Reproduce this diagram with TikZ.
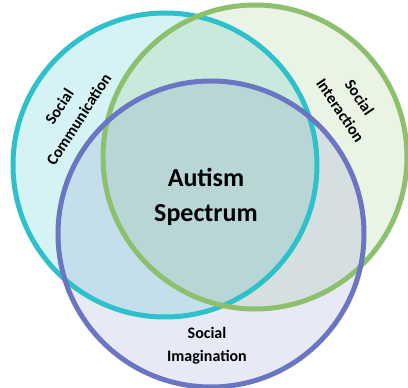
\documentclass[tikz,border=0pt]{standalone}
\usepackage{fontspec}
\setmainfont{Carlito}
\definecolor{tealc}{HTML}{2EC0CB}
\definecolor{greenc}{HTML}{8CC06C}
\definecolor{bluec}{HTML}{6B76C2}
\begin{document}
\begin{tikzpicture}[x=1pt,y=-1pt,
  ring/.style={line width=5pt},
  lbl/.style={font=\bfseries\fontsize{16}{23}\selectfont, align=center, text=black, inner sep=0pt},
  big/.style={font=\bfseries\fontsize{26}{35}\selectfont, align=center, text=black, inner sep=0pt}]
\useasboundingbox (0,0) rectangle (408,388);
\coordinate (tc) at (165,165);
\coordinate (gc) at (255,157);
\coordinate (bc) at (211,234);
\fill[tealc, fill opacity=0.2] (tc) circle (152);
\fill[greenc, fill opacity=0.18] (gc) circle (152);
\fill[bluec, fill opacity=0.16] (bc) circle (153);
\draw[ring, tealc] (tc) circle (152);
\draw[ring, greenc] (gc) circle (152);
\draw[ring, bluec] (bc) circle (153);
\node[big] (aut) at (206,197) {Autism\\Spectrum};
\node[lbl, rotate=57] (sc) at (69,113) {Social\\Communication};
\node[lbl, rotate=-56] (si) at (350,104) {Social\\Interaction};
\node[lbl] (sim) at (207,346) {Social\\Imagination};
\end{tikzpicture}
\end{document}
